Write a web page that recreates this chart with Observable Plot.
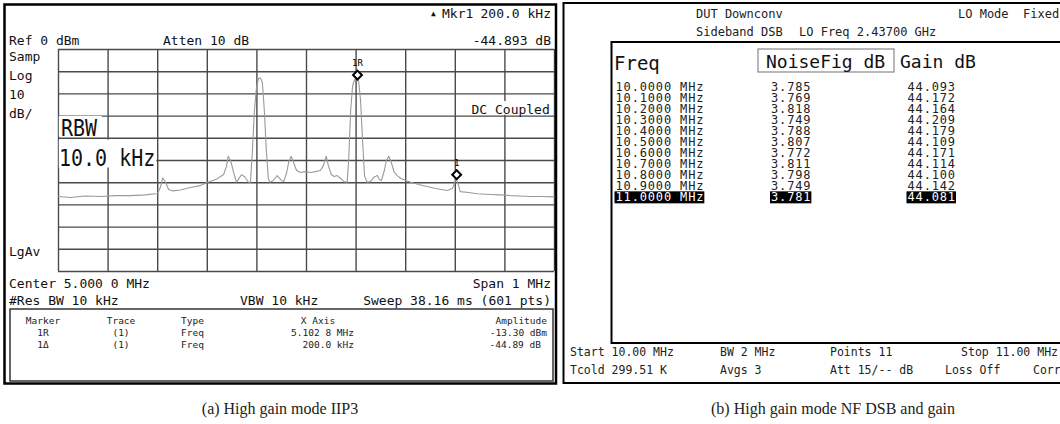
<!DOCTYPE html>
<html><head><meta charset="utf-8">
<script src="https://cdn.jsdelivr.net/npm/d3@7"></script>
<script src="https://cdn.jsdelivr.net/npm/@observablehq/plot@0.6"></script>
<style>
html,body{margin:0;padding:0;background:#fff;}
#root{position:relative;width:1060px;height:424px;overflow:hidden;background:#fff;}
.abs{position:absolute;left:0;top:0;}
</style></head>
<body><div id="root"></div>
<script>
// ---------- (a) spectrum analyzer trace ----------
const traceFreqMHz = [4.500,4.524,4.554,4.585,4.615,4.645,4.675,4.700,4.706,4.710,
  4.716,4.722,4.730,4.746,4.766,4.786,4.800,4.817,4.833,4.839,
  4.842,4.847,4.853,4.859,4.865,4.869,4.875,4.883,4.887,4.891,
  4.895,4.899,4.903,4.907,4.911,4.915,4.919,4.923,4.926,4.933,
  4.941,4.948,4.954,4.960,4.964,4.969,4.974,4.980,4.988,4.998,
  5.008,5.018,5.028,5.034,5.040,5.044,5.050,5.056,5.062,5.069,
  5.075,5.082,5.085,5.089,5.093,5.097,5.101,5.105,5.109,5.113,
  5.117,5.122,5.129,5.135,5.143,5.147,5.151,5.157,5.161,5.166,
  5.171,5.177,5.183,5.190,5.200,5.210,5.226,5.243,5.260,5.284,
  5.294,5.298,5.302,5.306,5.310,5.327,5.344,5.371,5.391,5.411,
  5.431,5.452,5.472,5.500];
const traceLevelDbm = [-66.2,-66.7,-66.0,-66.2,-65.8,-65.8,-65.5,-64.9,-61.7,-57.8,
  -59.9,-63.1,-63.7,-63.3,-62.2,-61.3,-59.9,-58.6,-56.3,-52.3,
  -48.1,-50.0,-55.4,-59.8,-57.7,-56.4,-57.2,-59.8,-59.8,-45.5,
  -27.5,-17.6,-13.1,-12.8,-14.9,-27.5,-45.5,-58.1,-59.8,-59.0,
  -56.8,-58.6,-59.5,-55.4,-50.9,-48.1,-50.9,-54.5,-55.4,-55.0,
  -55.4,-55.0,-54.5,-52.3,-48.1,-52.3,-56.3,-57.2,-56.8,-58.1,
  -59.5,-59.8,-50.0,-27.5,-16.2,-13.5,-13.3,-14.0,-23.0,-41.0,
  -56.8,-59.8,-59.5,-57.7,-56.8,-58.6,-59.0,-54.5,-50.0,-48.1,
  -50.9,-55.4,-56.8,-58.1,-59.0,-59.8,-60.8,-61.7,-62.6,-63.5,
  -62.6,-60.4,-58.2,-60.8,-64.0,-64.4,-65.0,-65.3,-65.5,-65.8,
  -66.0,-66.2,-66.2,-66.4];
const gridFreqMHz = [4.5,4.6,4.7,4.8,4.9,5.0,5.1,5.2,5.3,5.4,5.5];
const gridLevelDbm = [0,-10,-20,-30,-40,-50,-60,-70,-80,-90,-100];
const markerNames = ["1R","1"];
const markerFreqMHz = [5.1028,5.3028];
const markerLevelDbm = [-13.30,-58.19];

// ---------- (b) noise figure table ----------
const nfFreqMHz = [10.0,10.1,10.2,10.3,10.4,10.5,10.6,10.7,10.8,10.9,11.0];
const nfValuesDb = [3.785,3.769,3.818,3.749,3.788,3.807,3.772,3.811,3.798,3.749,3.781];
const gainValuesDb = [44.093,44.172,44.164,44.209,44.179,44.109,44.171,44.114,44.100,44.142,44.081];
const tableColumns = ["Freq","NoiseFig dB","Gain dB"];

const MONO = "'DejaVu Sans Mono', monospace";
const root = document.getElementById("root");

// ---------- left plot ----------
const trace = traceFreqMHz.map((f,i)=>({f, l: traceLevelDbm[i]}));
const markers = markerNames.map((n,i)=>({n, f: markerFreqMHz[i], l: markerLevelDbm[i]}));
const leftPlot = Plot.plot({
  width: 560, height: 390,
  marginLeft: 58, marginRight: 6, marginTop: 49, marginBottom: 119,
  x: {domain: [4.5, 5.5], axis: null},
  y: {domain: [-100, 0], axis: null},
  style: {background: "transparent", maxWidth: "none", fontFamily: MONO, overflow: "visible"},
  marks: [
    Plot.ruleX(gridFreqMHz, {stroke: "#4a4a4a", strokeWidth: 1.4}),
    Plot.ruleY(gridLevelDbm, {stroke: "#4a4a4a", strokeWidth: 1.4}),
    Plot.line(trace, {x: "f", y: "l", stroke: "#9a9a9a", strokeWidth: 1.1}),
    Plot.dot(markers, {x: "f", y: "l", symbol: "diamond2", r: 4, stroke: "#000", strokeWidth: 2, fill: "#fff", dy: -4}),
    Plot.text(markers, {x: "f", y: "l", text: "n", dy: -16, fontSize: 9, fill: "#000"})
  ]
});
leftPlot.classList.add("abs");
root.appendChild(leftPlot);

// ---------- right plot (table) ----------
const fFreq = d => d3.format(".4f")(d) + " MHz";
const f3 = d3.format(".3f");
const rows = nfFreqMHz.map((f,i)=>({freq: fFreq(f), nf: f3(nfValuesDb[i]), gain: f3(gainValuesDb[i]), hl: i === nfFreqMHz.length-1}));
const cellOpts = (col, key, hl) => ({
  filter: d => d.hl === hl, x: () => col, y: "freq", text: key,
  textAnchor: "start", fontSize: 12, fill: hl ? "#fff" : "#222", dx: col === "NoiseFig dB" ? 9.5 : 0
});
const rightPlot = Plot.plot({
  width: 500, height: 390, margin: 0,
  x: {type: "point", domain: tableColumns, range: [54, 347], padding: 0, axis: null},
  y: {type: "point", domain: rows.map(d=>d.freq), range: [86, 198], padding: 0, axis: null},
  style: {background: "transparent", maxWidth: "none", fontFamily: MONO, letterSpacing: "0.85px"},
  marks: [
    Plot.text(rows, cellOpts("Freq", "freq", false)),
    Plot.text(rows, cellOpts("NoiseFig dB", "nf", false)),
    Plot.text(rows, cellOpts("Gain dB", "gain", false)),
    Plot.text(rows, cellOpts("Freq", "freq", true)),
    Plot.text(rows, cellOpts("NoiseFig dB", "nf", true)),
    Plot.text(rows, cellOpts("Gain dB", "gain", true))
  ]
});
rightPlot.classList.add("abs");
rightPlot.style.left = "560px";
root.appendChild(rightPlot);

// highlight boxes behind the selected row
{
  const last = rows[rows.length-1];
  const hl = new Set([last.freq, last.nf, last.gain]);
  const sb = rightPlot.getBoundingClientRect();
  const bg = d3.select(rightPlot).insert("g", ":first-child");
  d3.select(rightPlot).selectAll("text").each(function(){
    if (!hl.has(this.textContent)) return;
    const g = this.closest("g");
    if (!g || g.getAttribute("fill") !== "#fff") return;
    const b = this.getBoundingClientRect();
    bg.append("rect").attr("x", b.x - sb.x - 1).attr("y", b.y - sb.y + 1)
      .attr("width", b.width + 1).attr("height", b.height - 2).attr("fill", "#000");
  });
}

// ---------- overlay: frames and instrument annotations ----------
const ov = d3.select(root).append("svg").attr("class","abs")
  .attr("width",1060).attr("height",424).style("overflow","visible");
function t(x, y, s, o = {}) {
  const e = ov.append("text").attr("x", x).attr("y", y).text(s)
    .attr("font-family", o.font || MONO).attr("font-size", o.size || 13)
    .attr("fill", o.fill || "#111").attr("text-anchor", o.anchor || "start")
    .attr("dominant-baseline", o.base || "central").style("white-space", "pre");
  return e;
}
// left frame
ov.append("rect").attr("x",4.5).attr("y",4.5).attr("width",551.5).attr("height",379)
  .attr("fill","none").attr("stroke","#000").attr("stroke-width",2.5);
t(431, 13, "▲", {size: 8});
t(442, 13, "Mkr1");
t(551, 13, "200.0 kHz", {anchor: "end"});
t(9, 40, "Ref 0 dBm");
t(163, 40, "Atten 10 dB");
t(551, 40, "-44.893 dB", {anchor: "end"});
t(9, 56, "Samp"); t(9, 75, "Log"); t(9, 94, "10"); t(9, 113, "dB/");
t(9, 251, "LgAv");
// RBW annotation boxes
ov.append("rect").attr("x",58.8).attr("y",116).attr("width",43).attr("height",20.5).attr("fill","#fff");
t(61, 136, "RBW", {size: 20, base: "auto"}).attr("transform","translate(0,136) scale(1,1.15) translate(0,-136)");
ov.append("rect").attr("x",58.8).attr("y",139.5).attr("width",97.5).attr("height",28).attr("fill","#fff");
t(59, 166, "10.0 kHz", {size: 20, base: "auto"}).attr("transform","translate(0,166) scale(1,1.15) translate(0,-166)");
ov.append("rect").attr("x",469).attr("y",101).attr("width",84).attr("height",13.8).attr("fill","#fff");
t(471.5, 113.5, "DC Coupled", {base: "auto"});
t(9, 283, "Center 5.000 0 MHz");
t(551, 283, "Span 1 MHz", {anchor: "end"});
t(9, 300, "#Res BW 10 kHz");
t(240, 300, "VBW 10 kHz");
t(551, 300, "Sweep 38.16 ms (601 pts)", {anchor: "end"});
ov.append("rect").attr("x",10).attr("y",309).attr("width",543).attr("height",72)
  .attr("fill","none").attr("stroke","#333").attr("stroke-width",1.5);
const ms = {size: 9.5, fill: "#222"};
t(43, 320, "Marker", {...ms, anchor: "middle"});
t(121, 320, "Trace", {...ms, anchor: "middle"});
t(181, 320, "Type", ms);
t(318, 320, "X Axis", {...ms, anchor: "middle"});
t(547, 320, "Amplitude", {...ms, anchor: "end"});
t(43, 332, "1R", {...ms, anchor: "middle"});
t(121, 332, "(1)", {...ms, anchor: "middle"});
t(181, 332, "Freq", ms);
t(354, 332, "5.102 8 MHz", {...ms, anchor: "end"});
t(547, 332, "-13.30 dBm", {...ms, anchor: "end"});
t(43, 344, "1Δ", {...ms, anchor: "middle"});
t(121, 344, "(1)", {...ms, anchor: "middle"});
t(181, 344, "Freq", ms);
t(354, 344, "200.0 kHz", {...ms, anchor: "end"});
t(541, 344, "-44.89 dB", {...ms, anchor: "end"});

// right frame
ov.append("rect").attr("x",563.5).attr("y",3).attr("width",520).attr("height",380)
  .attr("fill","none").attr("stroke","#000").attr("stroke-width",2);
ov.append("path").attr("d","M1070,42H611.5V343H1070").attr("fill","none").attr("stroke","#000").attr("stroke-width",2);
const rs = {size: 12, fill: "#222"};
t(696, 14, "DUT Downconv", rs);
t(958, 14, "LO Mode  Fixed", rs);
t(696, 32, "Sideband DSB", rs);
t(799, 32, "LO Freq 2.43700 GHz", rs);
ov.append("rect").attr("x",758).attr("y",49).attr("width",136).attr("height",23)
  .attr("fill","none").attr("stroke","#888").attr("stroke-width",1.2);
t(614, 63, tableColumns[0], {size: 19, fill: "#111"});
t(766, 61, tableColumns[1], {size: 18, fill: "#111"});
t(900, 61, tableColumns[2], {size: 18, fill: "#111"});
const fs = {size: 11.5, fill: "#222"};
t(570, 352, "Start 10.00 MHz", fs);
t(720, 352, "BW 2 MHz", fs);
t(830, 352, "Points 11", fs);
t(1058, 352, "Stop 11.00 MHz", {...fs, anchor: "end"});
t(570, 370, "Tcold 299.51 K", fs);
t(720, 370, "Avgs 3", fs);
t(830, 370, "Att 15/-- dB", fs);
t(945, 370, "Loss Off", fs);
t(1033, 370, "Corr", fs);

// captions
const cs = {font: "'Liberation Serif', 'Times New Roman', serif", size: 16, fill: "#222", anchor: "middle"};
t(280, 408, "(a) High gain mode IIP3", cs);
t(833, 408, "(b) High gain mode NF DSB and gain", cs);
</script>
</body></html>
